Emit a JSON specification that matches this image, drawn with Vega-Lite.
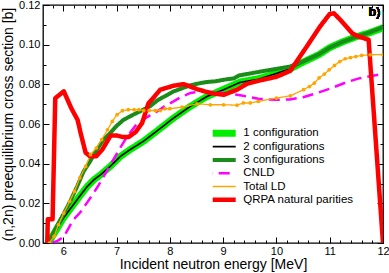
{
  "$schema": "https://vega.github.io/schema/vega-lite/v6.json",
  "width": 340,
  "height": 238,
  "autosize": {"type": "none"},
  "padding": {"left": 43, "top": 5, "right": 6, "bottom": 30},
  "background": "white",
  "config": {
    "view": {"stroke": "black", "strokeWidth": 1.3},
    "font": "Liberation Sans",
    "axis": {"domain": false, "grid": false, "labelFont": "Liberation Sans", "titleFont": "Liberation Sans", "labelColor": "black", "titleColor": "black", "tickColor": "black", "labelFontSize": 11, "titleFontSize": 14, "titleFontWeight": "normal", "tickWidth": 1, "labelFlush": false, "labelOverlap": false}
  },
  "data": {"values": [
    {"s": "1 configuration", "E": 5.72, "v": 0},
    {"s": "1 configuration", "E": 5.8, "v": 0.0035},
    {"s": "1 configuration", "E": 5.91, "v": 0.0084},
    {"s": "1 configuration", "E": 6.0, "v": 0.0125},
    {"s": "1 configuration", "E": 6.19, "v": 0.0193},
    {"s": "1 configuration", "E": 6.32, "v": 0.024},
    {"s": "1 configuration", "E": 6.45, "v": 0.0285},
    {"s": "1 configuration", "E": 6.58, "v": 0.032},
    {"s": "1 configuration", "E": 6.7, "v": 0.0344},
    {"s": "1 configuration", "E": 6.88, "v": 0.0386},
    {"s": "1 configuration", "E": 7.07, "v": 0.0436},
    {"s": "1 configuration", "E": 7.25, "v": 0.047},
    {"s": "1 configuration", "E": 7.5, "v": 0.0512},
    {"s": "1 configuration", "E": 7.76, "v": 0.0565},
    {"s": "1 configuration", "E": 8.07, "v": 0.063},
    {"s": "1 configuration", "E": 8.38, "v": 0.0688},
    {"s": "1 configuration", "E": 8.7, "v": 0.0739},
    {"s": "1 configuration", "E": 9.01, "v": 0.0775},
    {"s": "1 configuration", "E": 9.32, "v": 0.0812},
    {"s": "1 configuration", "E": 9.66, "v": 0.0828},
    {"s": "1 configuration", "E": 10.0, "v": 0.0855},
    {"s": "1 configuration", "E": 10.26, "v": 0.0878},
    {"s": "1 configuration", "E": 10.5, "v": 0.0912},
    {"s": "1 configuration", "E": 10.8, "v": 0.095},
    {"s": "1 configuration", "E": 11.0, "v": 0.0985},
    {"s": "1 configuration", "E": 11.25, "v": 0.1015},
    {"s": "1 configuration", "E": 11.5, "v": 0.104},
    {"s": "1 configuration", "E": 11.75, "v": 0.106},
    {"s": "1 configuration", "E": 12.0, "v": 0.1085},
    {"s": "2 configurations", "E": 5.72, "v": 0},
    {"s": "2 configurations", "E": 5.8, "v": 0.0035},
    {"s": "2 configurations", "E": 5.91, "v": 0.0084},
    {"s": "2 configurations", "E": 6.0, "v": 0.0125},
    {"s": "2 configurations", "E": 6.19, "v": 0.0193},
    {"s": "2 configurations", "E": 6.32, "v": 0.024},
    {"s": "2 configurations", "E": 6.45, "v": 0.0285},
    {"s": "2 configurations", "E": 6.58, "v": 0.032},
    {"s": "2 configurations", "E": 6.7, "v": 0.0344},
    {"s": "2 configurations", "E": 6.88, "v": 0.0386},
    {"s": "2 configurations", "E": 7.07, "v": 0.0436},
    {"s": "2 configurations", "E": 7.25, "v": 0.047},
    {"s": "2 configurations", "E": 7.5, "v": 0.0512},
    {"s": "2 configurations", "E": 7.76, "v": 0.0565},
    {"s": "2 configurations", "E": 8.07, "v": 0.063},
    {"s": "2 configurations", "E": 8.38, "v": 0.0688},
    {"s": "2 configurations", "E": 8.7, "v": 0.0739},
    {"s": "2 configurations", "E": 9.01, "v": 0.0773},
    {"s": "2 configurations", "E": 9.32, "v": 0.081},
    {"s": "2 configurations", "E": 9.66, "v": 0.0825},
    {"s": "2 configurations", "E": 10.0, "v": 0.0855},
    {"s": "2 configurations", "E": 10.26, "v": 0.0878},
    {"s": "2 configurations", "E": 10.5, "v": 0.0912},
    {"s": "2 configurations", "E": 10.8, "v": 0.095},
    {"s": "2 configurations", "E": 11.0, "v": 0.0985},
    {"s": "2 configurations", "E": 11.25, "v": 0.1015},
    {"s": "2 configurations", "E": 11.5, "v": 0.104},
    {"s": "2 configurations", "E": 11.75, "v": 0.106},
    {"s": "2 configurations", "E": 12.0, "v": 0.1085},
    {"s": "3 configurations", "E": 5.72, "v": 0},
    {"s": "3 configurations", "E": 5.85, "v": 0.007},
    {"s": "3 configurations", "E": 6.0, "v": 0.0143},
    {"s": "3 configurations", "E": 6.13, "v": 0.021},
    {"s": "3 configurations", "E": 6.26, "v": 0.0285},
    {"s": "3 configurations", "E": 6.38, "v": 0.036},
    {"s": "3 configurations", "E": 6.5, "v": 0.041},
    {"s": "3 configurations", "E": 6.63, "v": 0.047},
    {"s": "3 configurations", "E": 6.75, "v": 0.052},
    {"s": "3 configurations", "E": 6.88, "v": 0.0554},
    {"s": "3 configurations", "E": 7.0, "v": 0.059},
    {"s": "3 configurations", "E": 7.13, "v": 0.0621},
    {"s": "3 configurations", "E": 7.3, "v": 0.0645},
    {"s": "3 configurations", "E": 7.45, "v": 0.0665},
    {"s": "3 configurations", "E": 7.63, "v": 0.069},
    {"s": "3 configurations", "E": 7.76, "v": 0.0718},
    {"s": "3 configurations", "E": 7.94, "v": 0.0745},
    {"s": "3 configurations", "E": 8.07, "v": 0.0764},
    {"s": "3 configurations", "E": 8.2, "v": 0.0777},
    {"s": "3 configurations", "E": 8.38, "v": 0.0795},
    {"s": "3 configurations", "E": 8.57, "v": 0.0806},
    {"s": "3 configurations", "E": 8.7, "v": 0.0812},
    {"s": "3 configurations", "E": 8.85, "v": 0.0815},
    {"s": "3 configurations", "E": 9.01, "v": 0.0823},
    {"s": "3 configurations", "E": 9.2, "v": 0.083},
    {"s": "3 configurations", "E": 9.3, "v": 0.0845},
    {"s": "3 configurations", "E": 9.51, "v": 0.0855},
    {"s": "3 configurations", "E": 9.82, "v": 0.087},
    {"s": "3 configurations", "E": 10.0, "v": 0.0878},
    {"s": "3 configurations", "E": 10.26, "v": 0.089},
    {"s": "3 configurations", "E": 10.5, "v": 0.0915},
    {"s": "3 configurations", "E": 10.8, "v": 0.0952},
    {"s": "3 configurations", "E": 11.0, "v": 0.0985},
    {"s": "3 configurations", "E": 11.25, "v": 0.1015},
    {"s": "3 configurations", "E": 11.5, "v": 0.104},
    {"s": "3 configurations", "E": 11.75, "v": 0.1062},
    {"s": "3 configurations", "E": 12.0, "v": 0.1088},
    {"s": "CNLD", "E": 5.79, "v": 0},
    {"s": "CNLD", "E": 5.9, "v": 0.0012},
    {"s": "CNLD", "E": 6.01, "v": 0.0032},
    {"s": "CNLD", "E": 6.19, "v": 0.0117},
    {"s": "CNLD", "E": 6.32, "v": 0.0155},
    {"s": "CNLD", "E": 6.45, "v": 0.0205},
    {"s": "CNLD", "E": 6.57, "v": 0.0252},
    {"s": "CNLD", "E": 6.66, "v": 0.029},
    {"s": "CNLD", "E": 6.8, "v": 0.0355},
    {"s": "CNLD", "E": 6.94, "v": 0.042},
    {"s": "CNLD", "E": 7.08, "v": 0.0485},
    {"s": "CNLD", "E": 7.2, "v": 0.0537},
    {"s": "CNLD", "E": 7.35, "v": 0.059},
    {"s": "CNLD", "E": 7.52, "v": 0.0625},
    {"s": "CNLD", "E": 7.62, "v": 0.0642},
    {"s": "CNLD", "E": 7.76, "v": 0.0663},
    {"s": "CNLD", "E": 7.9, "v": 0.069},
    {"s": "CNLD", "E": 8.07, "v": 0.0714},
    {"s": "CNLD", "E": 8.2, "v": 0.0735},
    {"s": "CNLD", "E": 8.38, "v": 0.0756},
    {"s": "CNLD", "E": 8.55, "v": 0.0762},
    {"s": "CNLD", "E": 8.7, "v": 0.0764},
    {"s": "CNLD", "E": 8.85, "v": 0.076},
    {"s": "CNLD", "E": 9.01, "v": 0.0756},
    {"s": "CNLD", "E": 9.32, "v": 0.0745},
    {"s": "CNLD", "E": 9.66, "v": 0.0727},
    {"s": "CNLD", "E": 10.0, "v": 0.0722},
    {"s": "CNLD", "E": 10.25, "v": 0.0724},
    {"s": "CNLD", "E": 10.5, "v": 0.0735},
    {"s": "CNLD", "E": 10.75, "v": 0.0755},
    {"s": "CNLD", "E": 11.0, "v": 0.0778},
    {"s": "CNLD", "E": 11.33, "v": 0.0812},
    {"s": "CNLD", "E": 11.55, "v": 0.083},
    {"s": "CNLD", "E": 11.76, "v": 0.0841},
    {"s": "CNLD", "E": 12.0, "v": 0.0852},
    {"s": "Total LD", "E": 5.74, "v": 0},
    {"s": "Total LD", "E": 5.83, "v": 0.0034},
    {"s": "Total LD", "E": 5.91, "v": 0.0092},
    {"s": "Total LD", "E": 6.01, "v": 0.0151},
    {"s": "Total LD", "E": 6.12, "v": 0.021},
    {"s": "Total LD", "E": 6.21, "v": 0.026},
    {"s": "Total LD", "E": 6.31, "v": 0.0328},
    {"s": "Total LD", "E": 6.42, "v": 0.0386},
    {"s": "Total LD", "E": 6.51, "v": 0.0445},
    {"s": "Total LD", "E": 6.62, "v": 0.0479},
    {"s": "Total LD", "E": 6.72, "v": 0.0521},
    {"s": "Total LD", "E": 6.83, "v": 0.0571},
    {"s": "Total LD", "E": 6.92, "v": 0.0613},
    {"s": "Total LD", "E": 7.01, "v": 0.0647},
    {"s": "Total LD", "E": 7.11, "v": 0.0667},
    {"s": "Total LD", "E": 7.22, "v": 0.0672},
    {"s": "Total LD", "E": 7.33, "v": 0.0672},
    {"s": "Total LD", "E": 7.42, "v": 0.0672},
    {"s": "Total LD", "E": 7.51, "v": 0.0668},
    {"s": "Total LD", "E": 7.61, "v": 0.0668},
    {"s": "Total LD", "E": 7.73, "v": 0.0668},
    {"s": "Total LD", "E": 7.82, "v": 0.0668},
    {"s": "Total LD", "E": 7.91, "v": 0.0677},
    {"s": "Total LD", "E": 8.0, "v": 0.0677},
    {"s": "Total LD", "E": 8.23, "v": 0.0685},
    {"s": "Total LD", "E": 8.51, "v": 0.0702},
    {"s": "Total LD", "E": 8.76, "v": 0.0697},
    {"s": "Total LD", "E": 9.01, "v": 0.0697},
    {"s": "Total LD", "E": 9.26, "v": 0.0695},
    {"s": "Total LD", "E": 9.38, "v": 0.0706},
    {"s": "Total LD", "E": 9.51, "v": 0.0706},
    {"s": "Total LD", "E": 9.66, "v": 0.0714},
    {"s": "Total LD", "E": 10.0, "v": 0.0731},
    {"s": "Total LD", "E": 10.26, "v": 0.0742},
    {"s": "Total LD", "E": 10.51, "v": 0.0773},
    {"s": "Total LD", "E": 10.62, "v": 0.0789},
    {"s": "Total LD", "E": 10.71, "v": 0.0806},
    {"s": "Total LD", "E": 10.8, "v": 0.0832},
    {"s": "Total LD", "E": 10.9, "v": 0.0852},
    {"s": "Total LD", "E": 10.99, "v": 0.0873},
    {"s": "Total LD", "E": 11.09, "v": 0.0895},
    {"s": "Total LD", "E": 11.19, "v": 0.0915},
    {"s": "Total LD", "E": 11.29, "v": 0.0929},
    {"s": "Total LD", "E": 11.39, "v": 0.0935},
    {"s": "Total LD", "E": 11.49, "v": 0.094},
    {"s": "Total LD", "E": 11.6, "v": 0.0946},
    {"s": "Total LD", "E": 11.76, "v": 0.0949},
    {"s": "Total LD", "E": 12.0, "v": 0.095},
    {"s": "QRPA natural parities", "E": 5.7, "v": 0},
    {"s": "QRPA natural parities", "E": 5.71, "v": 0.012},
    {"s": "QRPA natural parities", "E": 5.8, "v": 0.012},
    {"s": "QRPA natural parities", "E": 5.85, "v": 0.073},
    {"s": "QRPA natural parities", "E": 5.92, "v": 0.0745},
    {"s": "QRPA natural parities", "E": 6.01, "v": 0.0765},
    {"s": "QRPA natural parities", "E": 6.15, "v": 0.068},
    {"s": "QRPA natural parities", "E": 6.27, "v": 0.062},
    {"s": "QRPA natural parities", "E": 6.33, "v": 0.055},
    {"s": "QRPA natural parities", "E": 6.42, "v": 0.0455},
    {"s": "QRPA natural parities", "E": 6.5, "v": 0.0438},
    {"s": "QRPA natural parities", "E": 6.62, "v": 0.0438},
    {"s": "QRPA natural parities", "E": 6.73, "v": 0.047},
    {"s": "QRPA natural parities", "E": 6.89, "v": 0.0542},
    {"s": "QRPA natural parities", "E": 7.0, "v": 0.0542},
    {"s": "QRPA natural parities", "E": 7.11, "v": 0.0535},
    {"s": "QRPA natural parities", "E": 7.23, "v": 0.0535},
    {"s": "QRPA natural parities", "E": 7.36, "v": 0.056},
    {"s": "QRPA natural parities", "E": 7.48, "v": 0.0605},
    {"s": "QRPA natural parities", "E": 7.6, "v": 0.0705},
    {"s": "QRPA natural parities", "E": 7.7, "v": 0.0735},
    {"s": "QRPA natural parities", "E": 7.82, "v": 0.0773},
    {"s": "QRPA natural parities", "E": 8.07, "v": 0.0793},
    {"s": "QRPA natural parities", "E": 8.26, "v": 0.0801},
    {"s": "QRPA natural parities", "E": 8.51, "v": 0.0776},
    {"s": "QRPA natural parities", "E": 8.76, "v": 0.0756},
    {"s": "QRPA natural parities", "E": 9.01, "v": 0.0747},
    {"s": "QRPA natural parities", "E": 9.26, "v": 0.0773},
    {"s": "QRPA natural parities", "E": 9.45, "v": 0.0803},
    {"s": "QRPA natural parities", "E": 9.66, "v": 0.0818},
    {"s": "QRPA natural parities", "E": 10.0, "v": 0.0838},
    {"s": "QRPA natural parities", "E": 10.26, "v": 0.0868},
    {"s": "QRPA natural parities", "E": 10.57, "v": 0.0991},
    {"s": "QRPA natural parities", "E": 10.82, "v": 0.1092},
    {"s": "QRPA natural parities", "E": 11.0, "v": 0.1155},
    {"s": "QRPA natural parities", "E": 11.08, "v": 0.1158},
    {"s": "QRPA natural parities", "E": 11.2, "v": 0.1125},
    {"s": "QRPA natural parities", "E": 11.3, "v": 0.1095},
    {"s": "QRPA natural parities", "E": 11.42, "v": 0.1058},
    {"s": "QRPA natural parities", "E": 11.54, "v": 0.1041},
    {"s": "QRPA natural parities", "E": 11.73, "v": 0.1025},
    {"s": "QRPA natural parities", "E": 12.0, "v": 0}
  ]},
  "layer": [
    {
      "mark": {"type": "line", "clip": true, "strokeJoin": "round"},
      "encoding": {
        "x": {"field": "E", "type": "quantitative", "scale": {"domain": [5.62, 12], "nice": false, "zero": false},
          "axis": {"orient": "bottom", "title": "Incident neutron energy [MeV]", "values": [6, 7, 8, 9, 10, 11, 12], "format": "d",
            "tickSize": -6, "labelPadding": 8, "titlePadding": 1}},
        "y": {"field": "v", "type": "quantitative", "scale": {"domain": [0, 0.12], "nice": false},
          "axis": {"orient": "left", "title": "(n,2n) preequilibrium cross section [b]", "values": [0, 0.02, 0.04, 0.06, 0.08, 0.1, 0.12], "format": ".2f",
            "tickSize": -6, "labelPadding": 9, "titlePadding": 3}},
        "color": {"field": "s", "type": "nominal",
          "scale": {"domain": ["1 configuration", "2 configurations", "3 configurations", "CNLD", "Total LD", "QRPA natural parities"],
            "range": ["#00ee00", "#000000", "#1a8c1a", "#ff00ff", "#ffa500", "#ff0000"]},
          "legend": {"title": null, "orient": "none", "legendX": 169.7, "legendY": 122.3, "symbolType": "M-6.8,0L6.8,0", "symbolSize": 25, "labelFontSize": 11.5, "labelFont": "Liberation Sans", "labelColor": "black", "labelOffset": 18.6, "padding": 0, "rowPadding": 1.3, "clipHeight": 12, "labelLimit": 200}},
        "strokeWidth": {"field": "s", "type": "nominal",
          "scale": {"type": "ordinal", "domain": ["1 configuration", "2 configurations", "3 configurations", "CNLD", "Total LD", "QRPA natural parities"], "range": [7, 1.6, 4, 2.5, 1.3, 4.5]}},
        "strokeDash": {"field": "s", "type": "nominal",
          "scale": {"domain": ["1 configuration", "2 configurations", "3 configurations", "CNLD", "Total LD", "QRPA natural parities"], "range": [[1, 0], [1, 0], [1, 0], [11, 6], [1, 0], [1, 0]]}}
      }
    },
    {
      "transform": [{"filter": "datum.s == 'Total LD'"}],
      "mark": {"type": "point", "filled": true, "color": "#ffa500", "size": 14, "opacity": 1, "clip": true},
      "encoding": {
        "x": {"field": "E", "type": "quantitative",
          "axis": {"orient": "top", "title": null, "values": [6, 7, 8, 9, 10, 11, 12], "labels": false, "tickSize": -6}},
        "y": {"field": "v", "type": "quantitative",
          "axis": {"orient": "right", "title": null, "values": [0, 0.02, 0.04, 0.06, 0.08, 0.1, 0.12], "labels": false, "tickSize": -6}}
      }
    },
    {
      "mark": {"type": "text", "text": "b)", "fontSize": 13, "font": "Liberation Sans", "color": "black", "align": "center", "baseline": "middle"},
      "encoding": {
        "x": {"datum": 11.84, "type": "quantitative",
          "axis": {"orient": "bottom", "title": null, "values": [5.8, 6.2, 6.4, 6.6, 6.8, 7.2, 7.4, 7.6, 7.8, 8.2, 8.4, 8.6, 8.8, 9.2, 9.4, 9.6, 9.8, 10.2, 10.4, 10.6, 10.8, 11.2, 11.4, 11.6, 11.8], "labels": false, "tickSize": -3}},
        "y": {"datum": 0.1165, "type": "quantitative",
          "axis": {"orient": "left", "title": null, "values": [0.01, 0.03, 0.05, 0.07, 0.09, 0.11], "labels": false, "tickSize": -3}}
      }
    },
    {
      "transform": [{"filter": "datum.s == 'Total LD'"}],
      "mark": {"type": "point", "opacity": 0},
      "encoding": {
        "x": {"field": "E", "type": "quantitative",
          "axis": {"orient": "top", "title": null, "values": [5.8, 6.2, 6.4, 6.6, 6.8, 7.2, 7.4, 7.6, 7.8, 8.2, 8.4, 8.6, 8.8, 9.2, 9.4, 9.6, 9.8, 10.2, 10.4, 10.6, 10.8, 11.2, 11.4, 11.6, 11.8], "labels": false, "tickSize": -3}},
        "y": {"field": "v", "type": "quantitative",
          "axis": {"orient": "right", "title": null, "values": [0.01, 0.03, 0.05, 0.07, 0.09, 0.11], "labels": false, "tickSize": -3}}
      }
    }
  ],
  "resolve": {"axis": {"x": "independent", "y": "independent"}}
}
